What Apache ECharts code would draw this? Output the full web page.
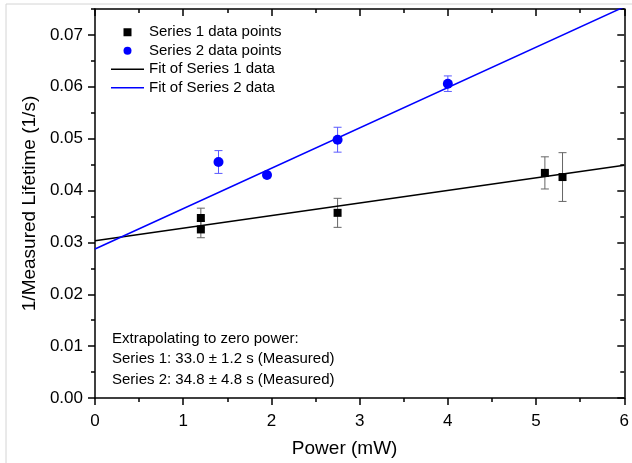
<!DOCTYPE html>
<html>
<head>
<meta charset="utf-8">
<script src="https://cdn.jsdelivr.net/npm/echarts@6/dist/echarts.min.js"></script>
<style>
  html, body { margin: 0; padding: 0; background: #fff; }
  #chart { width: 632px; height: 463px; }
</style>
</head>
<body>
<div id="chart"></div>
<script>
// Measured points: power (mW), 1/lifetime (1/s), error (1/s)
const s1Power = [1.2, 1.2, 2.75, 5.1, 5.3];
const s1Rate  = [0.0347, 0.0325, 0.0357, 0.0434, 0.0426];
const s1Err   = [0.0019, 0.0016, 0.0028, 0.0031, 0.0047];

const s2Power = [1.4, 1.95, 2.75, 4.0];
const s2Rate  = [0.0455, 0.0430, 0.0498, 0.0606];
const s2Err   = [0.0022, 0.0005, 0.0024, 0.0015];

// Linear fits: zero-power lifetimes (s) and slopes (1/s per mW)
const fitLifetime = [33.0, 34.8];
const fitSlope    = [0.00243, 0.00778];
const fitRange    = [0, 6];

const seriesNames = ['Series 1 data points', 'Series 2 data points',
                     'Fit of Series 1 data', 'Fit of Series 2 data'];
const noteLines = ['Extrapolating to zero power:',
                   'Series 1: 33.0 \u00b1 1.2 s (Measured)',
                   'Series 2: 34.8 \u00b1 4.8 s (Measured)'];

const yMajor = [0, 0.01, 0.02, 0.03, 0.04, 0.05, 0.06, 0.07];

const FONT = '"Liberation Sans", Arial, sans-serif';

function zip3(a, b, c) { return a.map((v, i) => [v, b[i], c[i]]); }
function fitLine(k) {
  const b = 1 / fitLifetime[k];
  return fitRange.map(x => [x, b + fitSlope[k] * x]);
}

function errorBars(color) {
  return function (params, api) {
    const x = api.value(0), y = api.value(1), e = api.value(2);
    const hi = api.coord([x, y + e]);
    const lo = api.coord([x, y - e]);
    const w = 4;
    const style = { stroke: color, lineWidth: 1 };
    return {
      type: 'group',
      children: [
        { type: 'line', shape: { x1: hi[0], y1: hi[1], x2: lo[0], y2: lo[1] }, style },
        { type: 'line', shape: { x1: hi[0] - w, y1: hi[1], x2: hi[0] + w, y2: hi[1] }, style },
        { type: 'line', shape: { x1: lo[0] - w, y1: lo[1], x2: lo[0] + w, y2: lo[1] }, style }
      ]
    };
  };
}

const axisLine = { show: true, onZero: false, lineStyle: { color: '#000', width: 1.5 } };
const noLine = { show: false, onZero: false };
const tickStyle = { color: '#000', width: 1.5 };

// legend glyphs: small square, dot, short stroke
const ICON_SQUARE = 'path://M0,0 H7 V7 H0 Z';
const ICON_STROKE = 'path://M0,0 H33 V1.5 H0 Z';

const chart = echarts.init(document.getElementById('chart'), null, { renderer: 'canvas' });

chart.setOption({
  animation: false,
  backgroundColor: '#fff',
  grid: { left: 95, right: 7, top: 9, bottom: 63, containLabel: false },
  legend: {
    orient: 'vertical',
    left: 111, top: 23,
    padding: 0,
    itemWidth: 33, itemHeight: 8, itemGap: 0,
    symbolKeepAspect: true,
    textStyle: { fontFamily: FONT, fontSize: 15, color: '#000', lineHeight: 18.5 },
    data: [
      { name: seriesNames[0], icon: ICON_SQUARE },
      { name: seriesNames[1], icon: 'circle' },
      { name: seriesNames[2], icon: ICON_STROKE },
      { name: seriesNames[3], icon: ICON_STROKE }
    ]
  },
  xAxis: [
    {
      type: 'value', position: 'bottom', min: 0, max: 6, interval: 1,
      axisLine, splitLine: { show: false },
      axisTick: { show: true, inside: false, length: 7, lineStyle: tickStyle },
      minorTick: { show: true, splitNumber: 2, length: 4, lineStyle: tickStyle },
      axisLabel: { fontFamily: FONT, fontSize: 17, color: '#000', margin: 15 },
      name: 'Power (mW)', nameLocation: 'middle', nameGap: 41,
      nameTextStyle: { fontFamily: FONT, fontSize: 19, color: '#000', padding: [0, 30, 0, 0] }
    },
    {
      type: 'value', position: 'top', min: 0, max: 6, interval: 1,
      axisLine, splitLine: { show: false },
      axisTick: { show: true, inside: true, length: 7, lineStyle: tickStyle },
      minorTick: { show: true, splitNumber: 2, length: 4, lineStyle: tickStyle },
      axisLabel: { show: false }
    }
  ],
  yAxis: [
    {
      type: 'value', position: 'left', min: 0, max: 0.075, interval: 0.01,
      axisLine, splitLine: { show: false },
      axisTick: { show: true, inside: false, length: 7, lineStyle: tickStyle, customValues: yMajor },
      axisLabel: {
        fontFamily: FONT, fontSize: 17, color: '#000', margin: 12,
        customValues: yMajor, formatter: v => v.toFixed(2)
      },
      name: '1/Measured Lifetime (1/s)', nameLocation: 'middle', nameGap: 51,
      nameTextStyle: { fontFamily: FONT, fontSize: 19, color: '#000' }
    },
    {
      type: 'value', position: 'right', min: 0, max: 0.075, interval: 0.01,
      axisLine, splitLine: { show: false },
      axisTick: { show: true, inside: true, length: 7, lineStyle: tickStyle, customValues: yMajor },
      axisLabel: { show: false }
    },
    {
      // minor ticks, left side
      type: 'value', position: 'left', min: 0, max: 0.075, interval: 0.005,
      axisLine: noLine, splitLine: { show: false },
      axisTick: { show: true, inside: false, length: 4, lineStyle: tickStyle },
      axisLabel: { show: false }
    },
    {
      // minor ticks, right side
      type: 'value', position: 'right', min: 0, max: 0.075, interval: 0.005,
      axisLine: noLine, splitLine: { show: false },
      axisTick: { show: true, inside: true, length: 4, lineStyle: tickStyle },
      axisLabel: { show: false }
    }
  ],
  graphic: [
    // light frame along the top and left edges
    { type: 'line', shape: { x1: 6, y1: 4, x2: 632, y2: 4 }, style: { stroke: '#d4d4d4', lineWidth: 1 }, silent: true },
    { type: 'line', shape: { x1: 6, y1: 4, x2: 6, y2: 463 }, style: { stroke: '#d4d4d4', lineWidth: 1 }, silent: true },
    ...noteLines.map((t, i) => ({
      type: 'text', left: 112, top: 331 + i * 20.5, silent: true,
      style: { text: t, fontFamily: FONT, fontSize: 15, fill: '#000' }
    }))
  ],
  series: [
    {
      name: 'err1', type: 'custom', xAxisIndex: 0, yAxisIndex: 0, z: 1,
      renderItem: errorBars('#666'), data: zip3(s1Power, s1Rate, s1Err)
    },
    {
      name: 'err2', type: 'custom', xAxisIndex: 0, yAxisIndex: 0, z: 1,
      renderItem: errorBars('#5a5aff'), data: zip3(s2Power, s2Rate, s2Err)
    },
    {
      name: seriesNames[2], type: 'line', data: fitLine(0), symbol: 'none', z: 2,
      lineStyle: { color: '#000', width: 1.5 }, itemStyle: { color: '#000' }
    },
    {
      name: seriesNames[3], type: 'line', data: fitLine(1), symbol: 'none', z: 2,
      lineStyle: { color: '#0000ff', width: 1.5 }, itemStyle: { color: '#0000ff' }
    },
    {
      name: seriesNames[0], type: 'scatter', symbol: 'rect', symbolSize: 8, z: 3,
      itemStyle: { color: '#000', opacity: 1 },
      data: s1Power.map((x, i) => [x, s1Rate[i]])
    },
    {
      name: seriesNames[1], type: 'scatter', symbol: 'circle', symbolSize: 10, z: 3,
      itemStyle: { color: '#0000ff', opacity: 1 },
      data: s2Power.map((x, i) => [x, s2Rate[i]])
    }
  ]
});
</script>
</body>
</html>
